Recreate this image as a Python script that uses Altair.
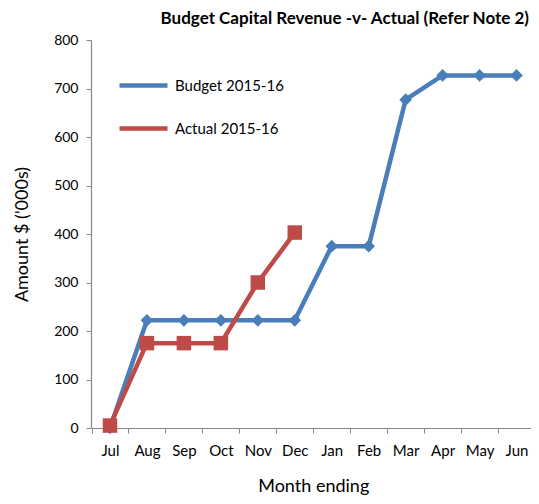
import altair as alt
import pandas as pd

months = ["Jul", "Aug", "Sep", "Oct", "Nov", "Dec", "Jan", "Feb", "Mar", "Apr", "May", "Jun"]
budget = [0, 222, 222, 222, 222, 222, 375, 375, 677, 727, 727, 727]
actual = [5, 175, 175, 175, 300, 403]
series_names = ["Budget 2015-16", "Actual 2015-16"]
series_colors = ["#4a7ebb", "#be4b48"]

rows = []
for m, v in zip(months, budget):
    rows.append({"Month": m, "Value": v, "Series": series_names[0]})
for m, v in zip(months, actual):
    rows.append({"Month": m, "Value": v, "Series": series_names[1]})
df = pd.DataFrame(rows)

FONT = "Lato"
AXC = "#868686"

x = alt.X("Month:N", sort=months,
          scale=alt.Scale(type="band", paddingInner=0, paddingOuter=0, range=[0.5, 444]),
          axis=alt.Axis(title="Month ending", labelAngle=0, tickBand="extent",
                        tickSize=5, labelPadding=10, titlePadding=19,
                        labelFontSize=15, titleFontSize=18, titleFontWeight="normal"))
y = alt.Y("Value:Q", scale=alt.Scale(domain=[0, 800]),
          axis=alt.Axis(title="Amount $ ('000s)", values=list(range(0, 801, 100)),
                        tickSize=5, labelPadding=8, titlePadding=22,
                        labelFontSize=14, titleFontSize=18, titleFontWeight="normal",
                        grid=False))
color = alt.Color("Series:N",
                  scale=alt.Scale(domain=series_names, range=series_colors),
                  legend=alt.Legend(title=None, orient="none", legendX=26, legendY=19,
                                    symbolType="stroke", symbolSize=2304,
                                    symbolStrokeWidth=4.5, labelFontSize=15,
                                    labelOffset=5, rowPadding=7, labelColor="#000"))

base = alt.Chart(df)

def series(name, shape, c, size):
    d = base.transform_filter(alt.datum.Series == name)
    line = d.mark_line(strokeWidth=4.5).encode(x=x, y=y, color=color)
    pts = d.mark_point(shape=shape, filled=True, size=size, opacity=1, color=c).encode(x=x, y=y)
    return line + pts

chart = alt.layer(
    series(series_names[0], "diamond", series_colors[0], 160),
    series(series_names[1], "square", series_colors[1], 210),
).properties(
    width=440, height=388,
    title=alt.TitleParams("Budget Capital Revenue -v- Actual (Refer Note 2)",
                          anchor="end", frame="group", fontSize=17, fontWeight="bold",
                          font=FONT, offset=5, dx=-2, color="#000"),
    autosize=alt.AutoSizeParams(type="none"),
    padding={"left": 83, "top": 32, "right": 0, "bottom": 68},
).configure_axis(
    domainColor=AXC, tickColor=AXC, labelColor="#000", titleColor="#000",
    labelFont=FONT, titleFont=FONT, domainWidth=1.2,
).configure_legend(labelFont=FONT).configure_view(stroke=None)

chart.save("out.html", embed_options={"renderer": "svg", "actions": False})
